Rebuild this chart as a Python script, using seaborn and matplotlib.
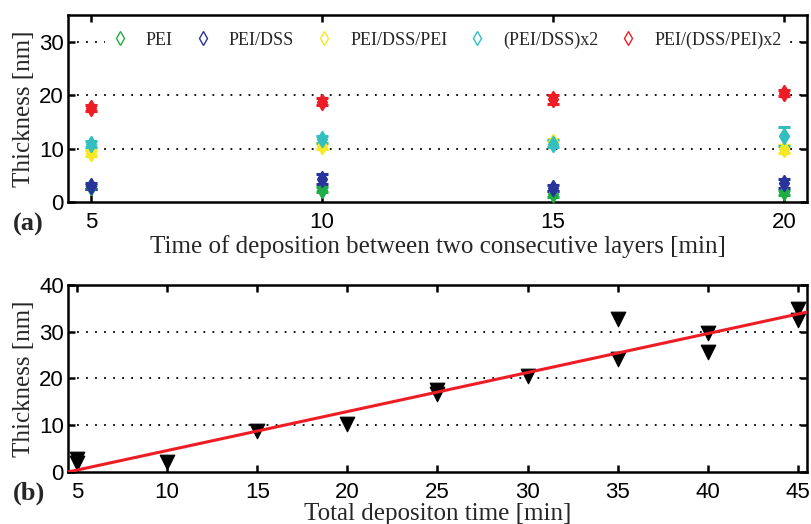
import matplotlib
matplotlib.use("Agg")
import matplotlib.pyplot as plt
import seaborn as sns
import pandas as pd
import numpy as np
from matplotlib.lines import Line2D

# ---------------- data ----------------
dep_time = [5, 10, 15, 20]
series_names = ["PEI", "PEI/DSS", "PEI/DSS/PEI", "(PEI/DSS)x2", "PEI/(DSS/PEI)x2"]
pei = [2.8, 2.3, 1.5, 1.8]
pei_err = [0.4, 0.5, 0.5, 0.5]
pei_dss = [3.0, 4.3, 2.6, 3.5]
pei_dss_err = [0.5, 0.9, 0.5, 0.8]
pei_dss_pei = [9.2, 10.5, 11.2, 9.9]
pei_dss_pei_err = [0.5, 0.5, 0.5, 0.8]
pei_dss_x2 = [10.8, 11.7, 10.9, 12.3]
pei_dss_x2_err = [0.6, 0.6, 0.7, 1.8]
pei_dss_pei_x2 = [17.6, 18.8, 19.2, 20.4]
pei_dss_pei_x2_err = [0.6, 0.6, 0.9, 0.5]

total_time = [5, 5, 10, 15, 20, 25, 25, 30, 35, 35, 40, 40, 45, 45]
total_thickness = [2.8, 2.0, 2.2, 8.8, 10.2, 17.6, 16.6, 20.6, 32.8, 24.2, 29.8, 25.6, 34.8, 32.4]
fit_x = [4.5, 45.5]
fit_y = [0.0, 34.2]

colors = ["#1fae45", "#28349a", "#f7e823", "#33bfc0", "#ee1c25"]

values = [pei, pei_dss, pei_dss_pei, pei_dss_x2, pei_dss_pei_x2]
errors = [pei_err, pei_dss_err, pei_dss_pei_err, pei_dss_x2_err, pei_dss_pei_x2_err]

rows = []
for name, v, e in zip(series_names, values, errors):
    for t, vv, ee in zip(dep_time, v, e):
        rows.append({"time": t, "thick": vv, "err": ee, "series": name})
df_a = pd.DataFrame(rows)
df_b = pd.DataFrame({"time": total_time, "thick": total_thickness})
df_fit = pd.DataFrame({"x": fit_x, "y": fit_y})

# ---------------- style ----------------
sns.set_theme(style="white")
plt.rcParams["font.family"] = ["Liberation Serif", "DejaVu Serif"]
plt.rcParams["axes.linewidth"] = 1.8

fig = plt.figure(figsize=(8.12, 5.24), dpi=100)
ax1 = fig.add_axes([0.0837, 0.6145, 0.9101, 0.357])
ax2 = fig.add_axes([0.0837, 0.0992, 0.9101, 0.357])

def style_axes(ax, xpad=7):
    for s in ax.spines.values():
        s.set_color("black")
        s.set_linewidth(1.8)
    ax.tick_params(direction="in", length=5, width=1.8, top=True, right=True,
                   bottom=True, left=True, colors="black")
    ax.tick_params(axis="x", pad=xpad)
    ax.tick_params(axis="y", pad=3)
    for lab in ax.get_xticklabels() + ax.get_yticklabels():
        lab.set_fontfamily("Liberation Sans")
        lab.set_fontsize(16)
    ax.grid(False)

# ---------------- panel (a) ----------------
for yv in [10, 20, 30]:
    ax1.axhline(yv, color="black", linestyle=(0, (1, 4)), linewidth=1.3, zorder=0)

for name, c in zip(series_names, colors):
    sub = df_a[df_a["series"] == name]
    ax1.errorbar(sub["time"], sub["thick"], yerr=sub["err"], fmt="none",
                 ecolor=c, elinewidth=2.2, capsize=4, capthick=2.2, zorder=2)
    sns.scatterplot(data=sub, x="time", y="thick", ax=ax1, color=c, marker="d",
                    s=60, edgecolor=c, linewidth=1.5, zorder=3, legend=False)

ax1.set_xlim(4.5, 20.5)
ax1.set_ylim(0, 35)
ax1.set_xticks([5, 10, 15, 20])
ax1.set_yticks([0, 10, 20, 30])
ax1.set_xlabel("Time of deposition between two consecutive layers [min]", fontsize=18, labelpad=2)
ax1.set_ylabel("Thickness [nm]", fontsize=18, labelpad=3)
style_axes(ax1, xpad=7)

handles = [Line2D([], [], linestyle="none", marker="d", markersize=7,
                  markerfacecolor="none", markeredgecolor=c, markeredgewidth=1.0)
           for c in colors]
leg = ax1.legend(handles, series_names, loc="center", bbox_to_anchor=(0.512, 0.866),
                 ncol=5, frameon=True, fontsize=13, handletextpad=0.95, columnspacing=1.15,
                 borderaxespad=0.0, handlelength=1.0, borderpad=0.3)
leg.get_frame().set_edgecolor("white")
leg.get_frame().set_facecolor("white")
leg.get_frame().set_alpha(1.0)
leg.get_frame().set_linewidth(0)

# ---------------- panel (b) ----------------
for yv in [10, 20, 30]:
    ax2.axhline(yv, color="black", linestyle=(0, (1, 4)), linewidth=1.3, zorder=0)

sns.scatterplot(data=df_b, x="time", y="thick", ax=ax2, color="black", marker="v",
                s=110, edgecolor="black", zorder=3, legend=False)
sns.lineplot(data=df_fit, x="x", y="y", ax=ax2, color="#ee1c25", linewidth=2.2, zorder=4)

ax2.set_xlim(4.5, 45.5)
ax2.set_ylim(0, 40)
ax2.set_xticks([5, 10, 15, 20, 25, 30, 35, 40, 45])
ax2.set_yticks([0, 10, 20, 30, 40])
ax2.set_xlabel("Total depositon time [min]", fontsize=18, labelpad=0)
ax2.set_ylabel("Thickness [nm]", fontsize=18, labelpad=3)
style_axes(ax2, xpad=7)

fig.text(0.016, 1 - 224 / 524, "(a)", fontsize=19, fontweight="bold", ha="left", va="center")
fig.text(0.016, 1 - 493 / 524, "(b)", fontsize=19, fontweight="bold", ha="left", va="center")

fig.savefig("out.png", dpi=100)
